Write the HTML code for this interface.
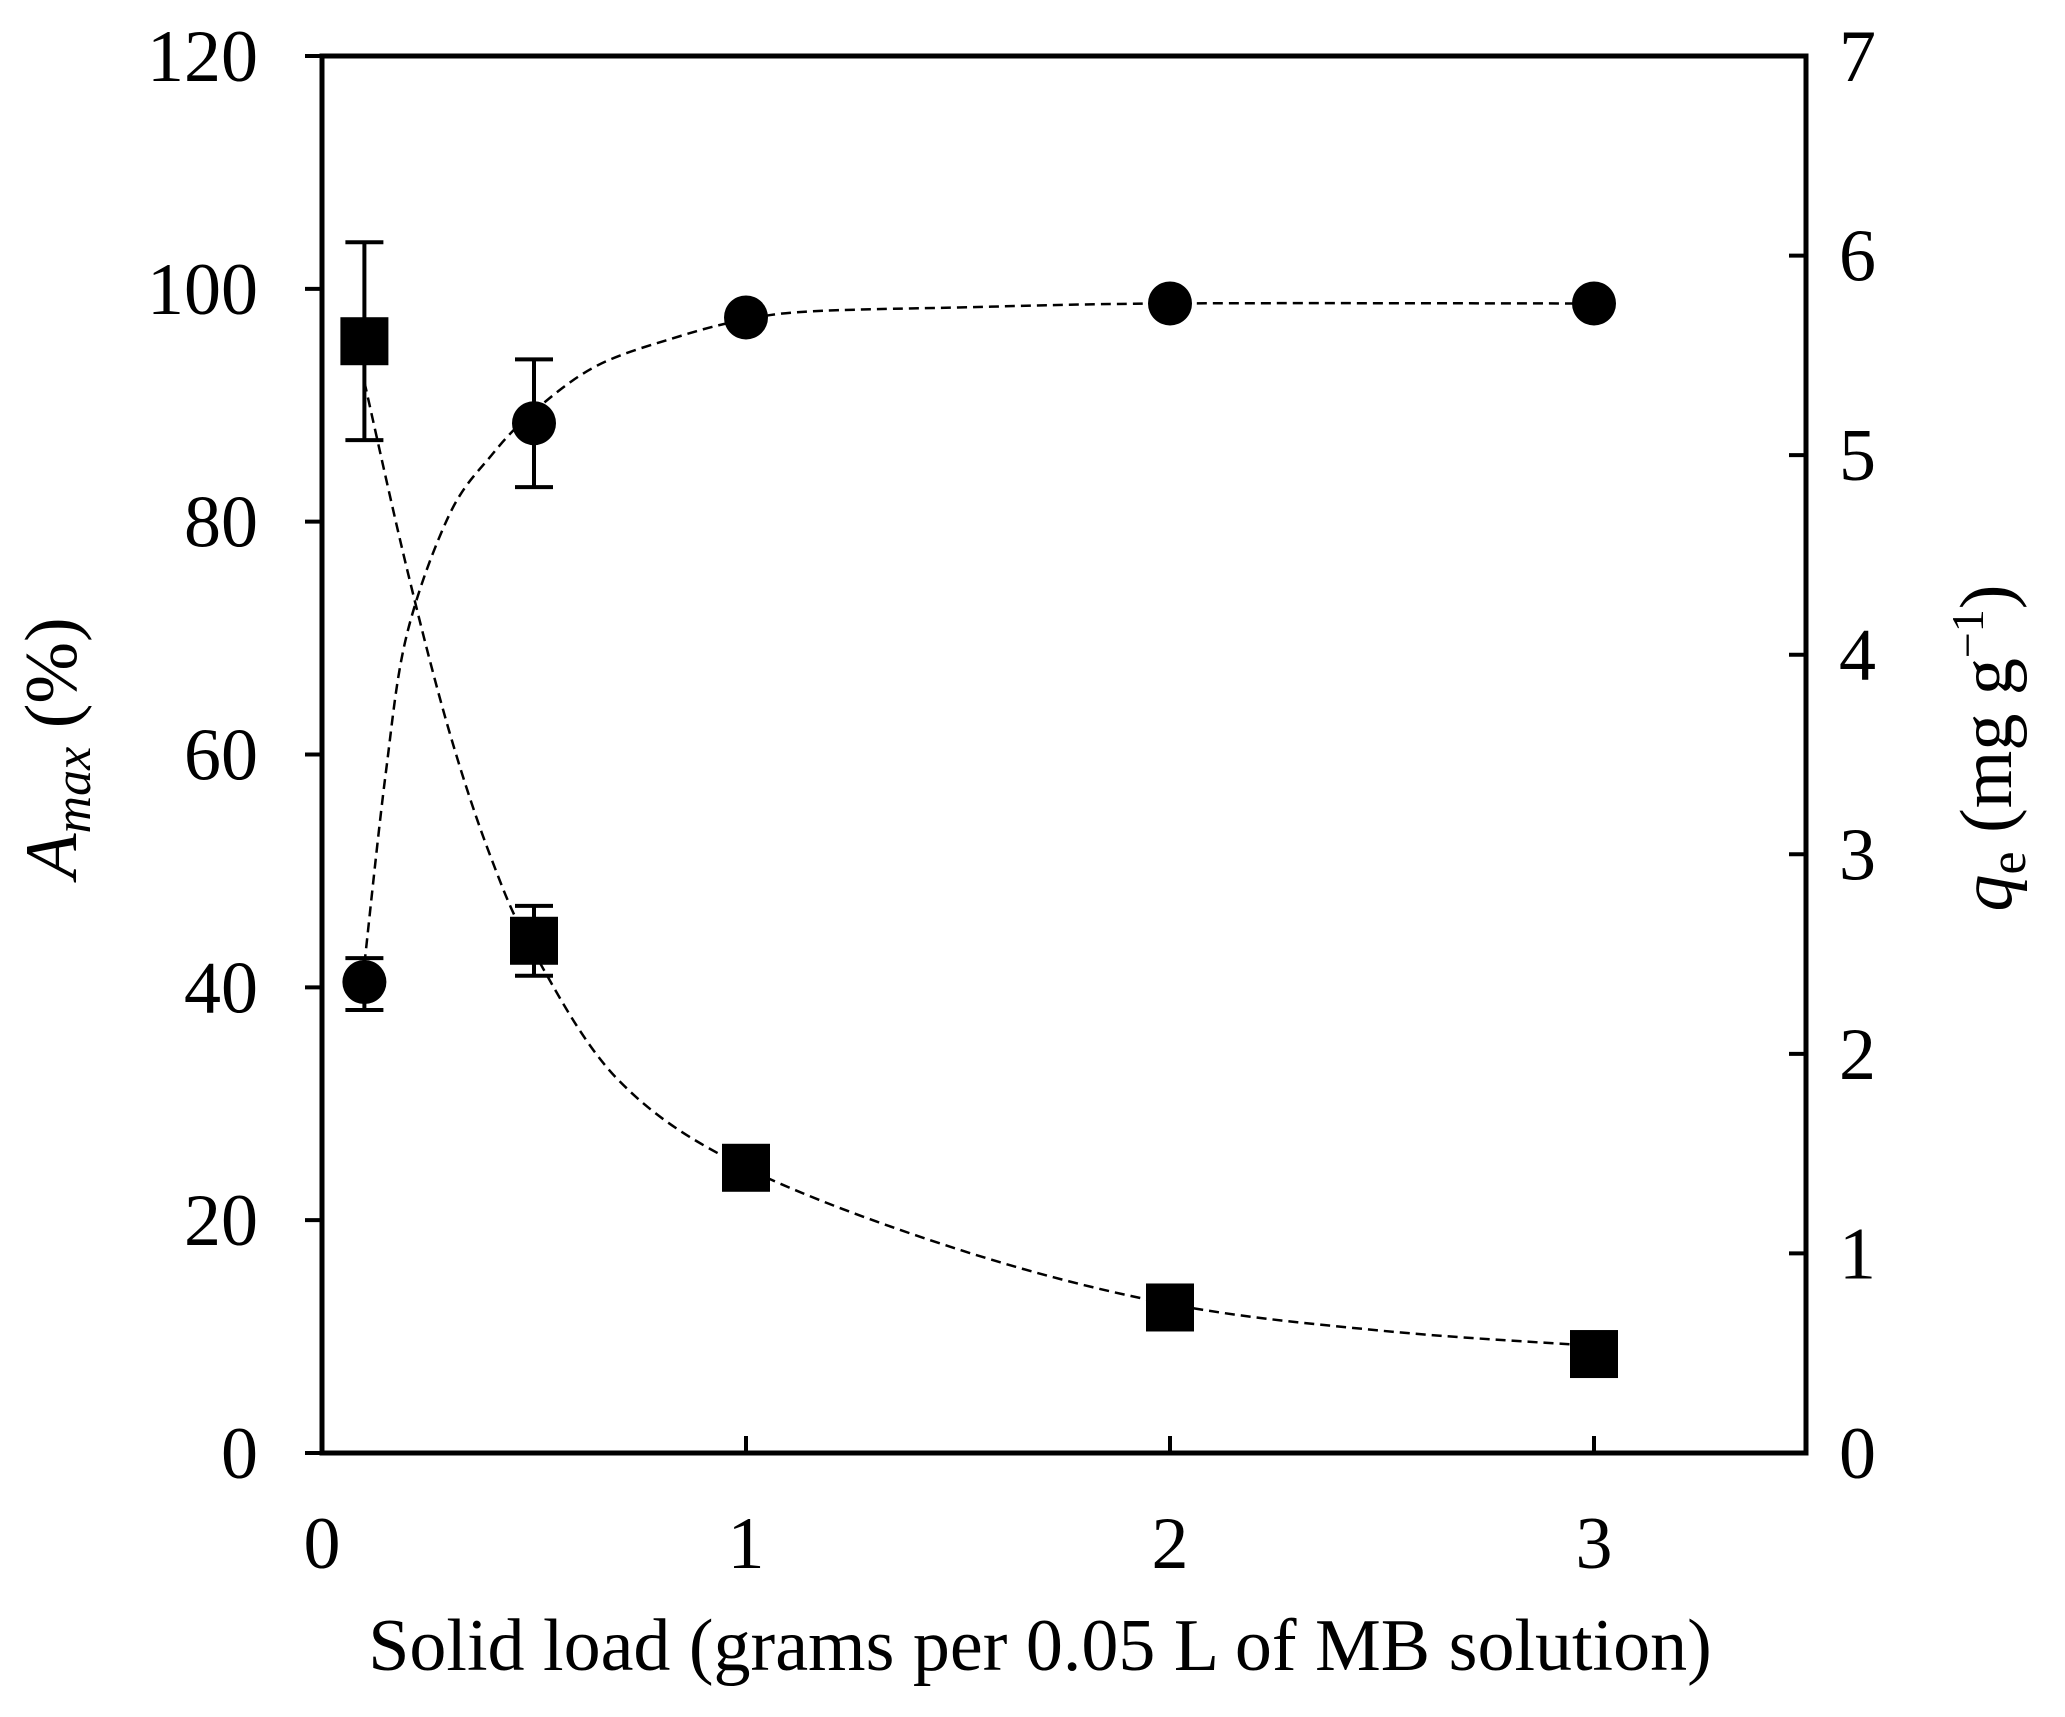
<!DOCTYPE html>
<html><head><meta charset="utf-8"><style>
html,body{margin:0;padding:0;background:#fff;}
svg{display:block;font-family:"Liberation Serif",serif;}
</style></head><body>
<svg id="chart" width="2065" height="1717" viewBox="0 0 2065 1717" xmlns="http://www.w3.org/2000/svg"></svg>
<script>
const xTicks=[0,1,2,3];
const yLeftTicks=[0,20,40,60,80,100,120];
const yRightTicks=[0,1,2,3,4,5,6,7];
const loads=[0.1,0.5,1,2,3];
const amax=[95.5,44,24.5,12.5,8.5];
const amaxErrLo=[87,41,24.5,12.5,8.5];
const amaxErrHi=[104,47,24.5,12.5,8.5];
const qe=[2.36,5.16,5.69,5.76,5.76];
const qeErrLo=[2.22,4.84,5.69,5.76,5.76];
const qeErrHi=[2.48,5.48,5.69,5.76,5.76];
const amaxFitX=[0.1,0.2,0.3,0.4,0.5,0.7,1,1.5,2,2.5,3];
const amaxFitY=[92,76,62,51,43,32,24.5,17.5,12.8,10.5,9.2];
const qeFitX=[0.1,0.15,0.2,0.3,0.4,0.5,0.65,0.85,1,1.15,1.5,2,3];
const qeFitY=[2.45,3.4,4.1,4.7,5.0,5.22,5.45,5.6,5.68,5.72,5.74,5.76,5.76];

const L=322,R=1806,T=56,B=1453;
const sx=v=>L+(v/3.5)*(R-L);
const syL=v=>B-(v/120)*(B-T);
const syR=v=>B-(v/7)*(B-T);
const svg=document.getElementById('chart');
const NS='http://www.w3.org/2000/svg';
function mk(tag,attrs,parent){const e=document.createElementNS(NS,tag);for(const k in attrs)e.setAttribute(k,attrs[k]);(parent||svg).appendChild(e);return e;}
function smooth(xs,ys){let p=xs.map((x,i)=>[x,ys[i]]);let d='M'+p[0][0]+','+p[0][1];for(let i=0;i<p.length-1;i++){const p0=p[Math.max(0,i-1)],p1=p[i],p2=p[i+1],p3=p[Math.min(p.length-1,i+2)];const c1=[p1[0]+(p2[0]-p0[0])/6,p1[1]+(p2[1]-p0[1])/6];const c2=[p2[0]-(p3[0]-p1[0])/6,p2[1]-(p3[1]-p1[1])/6];d+=' C'+c1+' '+c2+' '+p2;}return d;}

const frame=mk('rect',{x:L,y:T,width:R-L,height:B-T,fill:'none',stroke:'#000','stroke-width':5});


xTicks.forEach(v=>{const x=sx(v);
 const t=mk('line',{x1:x,x2:x,y1:B,y2:B-17,stroke:'#000','stroke-width':4});
 
 const l=mk('text',{x:x,y:1568,'font-size':74,'text-anchor':'middle'});l.textContent=v;
 });
yLeftTicks.forEach(v=>{const y=syL(v);
 const t=mk('line',{x1:L,x2:L-17,y1:y,y2:y,stroke:'#000','stroke-width':4});
 
 const l=mk('text',{x:258,y:y+25,'font-size':74,'text-anchor':'end'});l.textContent=v;
 });
yRightTicks.forEach(v=>{const y=syR(v);
 const t=mk('line',{x1:R,x2:R-17,y1:y,y2:y,stroke:'#000','stroke-width':4});
 
 const l=mk('text',{x:1839,y:y+25,'font-size':74,'text-anchor':'start'});l.textContent=v;
 });

const xt=mk('text',{x:1040,y:1670,'font-size':74,'text-anchor':'middle'});
xt.textContent='Solid load (grams per 0.05 L of MB solution)';

const yt=mk('text',{transform:'translate(76,748) rotate(-90)','font-size':74,'text-anchor':'middle'});
yt.innerHTML='<tspan font-style="italic">A</tspan><tspan font-style="italic" font-size="52" dy="14">max</tspan><tspan dy="-14"> (%)</tspan>';

const yt2=mk('text',{transform:'translate(2011,748) rotate(-90)','font-size':74,'text-anchor':'middle'});
yt2.innerHTML='<tspan font-style="italic">q</tspan><tspan font-size="52" dy="14">e</tspan><tspan dy="-14"> (mg g</tspan><tspan font-size="46" dy="-28">−1</tspan><tspan dy="28">)</tspan>';


const f1=mk('path',{d:smooth(amaxFitX.map(sx),amaxFitY.map(syL)),fill:'none',stroke:'#000','stroke-width':2.5,'stroke-dasharray':'10,6'});

const f2=mk('path',{d:smooth(qeFitX.map(sx),qeFitY.map(syR)),fill:'none',stroke:'#000','stroke-width':2.5,'stroke-dasharray':'10,6'});


function errbar(x,y1,y2,name){if(Math.abs(y1-y2)<2)return;
 const g=mk('g',{stroke:'#000','stroke-width':4});
 
 mk('line',{x1:x,x2:x,y1:y1,y2:y2},g);mk('line',{x1:x-19,x2:x+19,y1:y1,y2:y1},g);mk('line',{x1:x-19,x2:x+19,y1:y2,y2:y2},g);}
loads.forEach((v,i)=>{errbar(sx(v),syL(amaxErrLo[i]),syL(amaxErrHi[i]),'amax-error-bar');
 errbar(sx(v),syR(qeErrLo[i]),syR(qeErrHi[i]),'qe-error-bar');});
loads.forEach((v,i)=>{
 const s=mk('rect',{x:sx(v)-24,y:syL(amax[i])-24,width:48,height:48,fill:'#000'});
 
 const c=mk('circle',{cx:sx(v),cy:syR(qe[i]),r:22,fill:'#000'});
 });
</script>
</body></html>
